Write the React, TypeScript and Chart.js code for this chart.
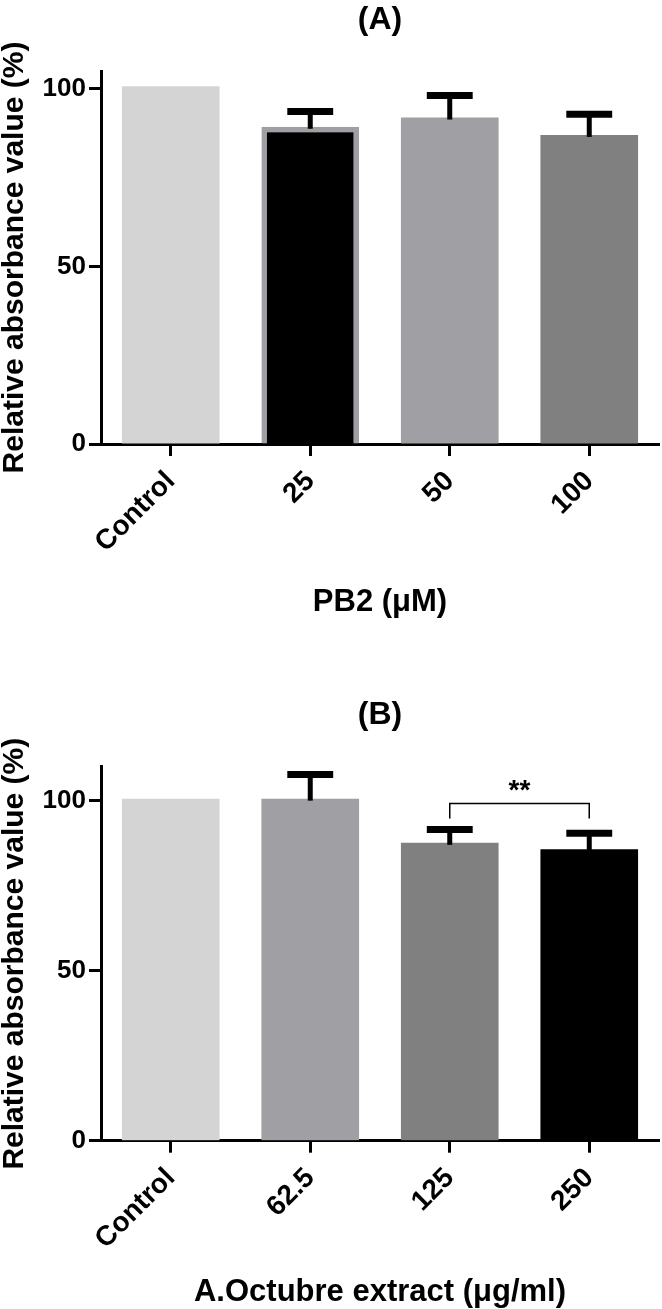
import React, { useEffect, useRef } from 'react';
import { Chart, registerables } from 'chart.js';

Chart.register(...registerables);

// ---- data ----
const categoriesA = ['Control', '25', '50', '100'];
const meansA = [100.7, 89.3, 91.9, 87.0];
const sdA = [0, 4.3, 6.2, 5.8];

const categoriesB = ['Control', '62.5', '125', '250'];
const meansB = [100.6, 100.6, 87.6, 85.7];
const sdB = [0, 7.1, 3.9, 4.7];

const yTickValues = [0, 50, 100];
const yMaxA = 105;
const yMaxB = 110;

// significance bracket in panel B (between categories 125 and 250)
const sigPairB = [2, 3];
const sigTopB = 99.2;
const sigEndB = 94.8;
const sigLabelB = '**';

const titleA = '(A)';
const titleB = '(B)';
const yTitle = 'Relative absorbance value (%)';
const xTitleA = 'PB2 (\u03BCM)';
const xTitleB = 'A.Octubre extract (\u03BCg/ml)';

// ---- styles ----
const FONT = "'Liberation Sans', Arial, Helvetica, sans-serif";
const colorsA = ['#d4d4d4', '#000000', '#a0a0a4', '#808080'];
const borderWidthsA = [0, 5.5, 0, 0];
const colorsB = ['#d4d4d4', '#a0a0a4', '#808080', '#000000'];
const borderWidthsB = [0, 0, 0, 0];

const overlayPlugin = {
  id: 'overlay',
  afterDatasetsDraw(chart: any, _args: any, opts: any) {
    const { ctx } = chart;
    const y = chart.scales.y;
    const meta = chart.getDatasetMeta(0);
    ctx.save();
    ctx.strokeStyle = '#000';
    ctx.lineCap = 'butt';
    (opts.sd || []).forEach((e: number, i: number) => {
      if (!e) return;
      const bar = meta.data[i];
      const xc = bar.x;
      const y0 = y.getPixelForValue(opts.means[i]);
      const y1 = y.getPixelForValue(opts.means[i] + e);
      ctx.lineWidth = 5;
      ctx.beginPath();
      ctx.moveTo(xc, y0 + 2);
      ctx.lineTo(xc, y1);
      ctx.stroke();
      ctx.lineWidth = 7;
      const hw = bar.width * 0.235;
      ctx.beginPath();
      ctx.moveTo(xc - hw, y1);
      ctx.lineTo(xc + hw, y1);
      ctx.stroke();
    });
    if (opts.sig) {
      const s = opts.sig;
      const xa = meta.data[s.pair[0]].x;
      const xb = meta.data[s.pair[1]].x;
      const yt = y.getPixelForValue(s.top);
      const ye = y.getPixelForValue(s.end);
      ctx.lineWidth = 1.5;
      ctx.beginPath();
      ctx.moveTo(xa, ye);
      ctx.lineTo(xa, yt);
      ctx.lineTo(xb, yt);
      ctx.lineTo(xb, ye);
      ctx.stroke();
      ctx.fillStyle = '#000';
      ctx.font = `bold 28px ${FONT}`;
      ctx.textAlign = 'center';
      ctx.textBaseline = 'bottom';
      ctx.fillText(s.label, (xa + xb) / 2, yt + 2);
    }
    ctx.restore();
  },
  afterDraw(chart: any, _args: any, opts: any) {
    const { ctx, chartArea } = chart;
    ctx.save();
    ctx.fillStyle = '#000';
    ctx.font = `bold 32px ${FONT}`;
    ctx.textAlign = 'center';
    ctx.textBaseline = 'middle';
    ctx.fillText(opts.title, (chartArea.left + chartArea.right) / 2, opts.titleY);
    ctx.restore();
  },
};

function makeConfig(p: any) {
  return {
    type: 'bar',
    data: {
      labels: p.labels,
      datasets: [
        {
          data: p.means,
          backgroundColor: p.colors,
          borderColor: '#a0a0a4',
          borderWidth: p.borderWidths,
          borderSkipped: 'bottom',
          barPercentage: 0.7,
          categoryPercentage: 1,
        },
      ],
    },
    options: {
      animation: false,
      responsive: false,
      maintainAspectRatio: false,
      layout: { padding: { left: 0, right: 3, top: p.top, bottom: 0 } },
      plugins: {
        legend: { display: false },
        tooltip: { enabled: false },
        title: { display: false },
        overlay: { sd: p.sd, means: p.means, sig: p.sig, title: p.title, titleY: p.titleY },
      },
      scales: {
        x: {
          z: 1,
          offset: true,
          grid: {
            offset: false,
            drawOnChartArea: false,
            drawTicks: true,
            tickLength: 12,
            tickWidth: 3,
            tickColor: '#000',
          },
          border: { display: true, color: '#000', width: 3 },
          ticks: {
            color: '#000',
            font: { family: FONT, size: 28, weight: 'bold' },
            minRotation: 45,
            maxRotation: 45,
            padding: 9,
          },
          title: {
            display: true,
            text: p.xTitle,
            color: '#000',
            font: { family: FONT, size: 31, weight: 'bold', lineHeight: 1 },
            padding: { top: 0, bottom: p.xTitlePad },
          },
          afterFit(scale: any) {
            scale.height = p.xHeight;
          },
        },
        y: {
          z: 1,
          min: 0,
          max: p.yMax,
          afterBuildTicks(scale: any) {
            scale.ticks = yTickValues.map((v) => ({ value: v }));
          },
          grid: {
            drawOnChartArea: false,
            drawTicks: true,
            tickLength: 12,
            tickWidth: 3,
            tickColor: '#000',
          },
          border: { display: true, color: '#000', width: 3 },
          ticks: {
            color: '#000',
            font: { family: FONT, size: 26, weight: 'bold' },
            padding: 3,
          },
          title: {
            display: true,
            text: yTitle,
            color: '#000',
            font: { family: FONT, size: 30, weight: 'bold', lineHeight: 1 },
            padding: { top: 0, bottom: 0 },
          },
          afterFit(scale: any) {
            scale.width = 101;
          },
        },
      },
    },
    plugins: [overlayPlugin],
  };
}

function BarPanel(props: { cfg: any; width: number; height: number; top: number }) {
  const ref = useRef<HTMLCanvasElement | null>(null);
  useEffect(() => {
    if (!ref.current) return;
    const chart = new Chart(ref.current, props.cfg);
    return () => chart.destroy();
  }, []);
  return (
    <canvas
      ref={ref}
      width={props.width}
      height={props.height}
      style={{ position: 'absolute', left: 0, top: props.top, display: 'block', width: props.width, height: props.height }}
    />
  );
}

export default function App() {
  const cfgA = makeConfig({
    labels: categoriesA,
    means: meansA,
    sd: sdA,
    colors: colorsA,
    borderWidths: borderWidthsA,
    yMax: yMaxA,
    top: 71,
    xHeight: 196,
    xTitle: xTitleA,
    xTitlePad: 22,
    title: titleA,
    titleY: 20,
    sig: null,
  });
  const cfgB = makeConfig({
    labels: categoriesB,
    means: meansB,
    sd: sdB,
    colors: colorsB,
    borderWidths: borderWidthsB,
    yMax: yMaxB,
    top: 126.7,
    xHeight: 168.3,
    xTitle: xTitleB,
    xTitlePad: 1,
    title: titleB,
    titleY: 75,
    sig: { pair: sigPairB, top: sigTopB, end: sigEndB, label: sigLabelB },
  });
  return (
    <div style={{ position: 'absolute', left: 0, top: 0, width: 662, height: 1309, background: '#fff' }}>
      <BarPanel cfg={cfgA} width={662} height={640} top={0} />
      <BarPanel cfg={cfgB} width={662} height={669} top={640} />
    </div>
  );
}
